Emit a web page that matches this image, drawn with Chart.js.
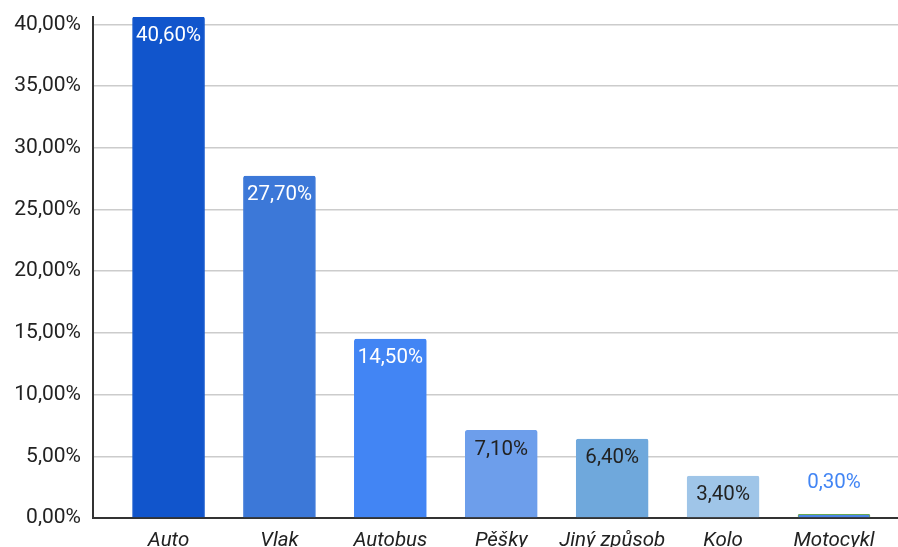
<!DOCTYPE html>
<html>
<head>
<meta charset="utf-8">
<script src="https://cdn.jsdelivr.net/npm/chart.js@4"></script>
<style>
html,body{margin:0;padding:0;background:#fff;}
#wrap{width:898px;height:547px;position:relative;}
</style>
</head>
<body>
<div id="wrap"><canvas id="c" width="898" height="547"></canvas></div>
<script>
const categories = ['Auto', 'Vlak', 'Autobus', 'Pěšky', 'Jiný způsob', 'Kolo', 'Motocykl'];
const values = [40.6, 27.7, 14.5, 7.1, 6.4, 3.4, 0.3];
const yTicks = [0, 5, 10, 15, 20, 25, 30, 35, 40];

const barColors = ['#1155cc', '#3c78d8', '#4285f4', '#6d9eeb', '#6fa8dc', '#9fc5e8', '#4a86e8'];
const barBorders = ['#1155cc', '#3c78d8', '#4285f4', '#6d9eeb', '#6fa8dc', '#9fc5e8', '#6aa84f'];
const labelColors = ['#ffffff', '#ffffff', '#ffffff', '#222222', '#222222', '#222222', '#4285f4'];

const fmt = v => v.toFixed(2).replace('.', ',') + '%';

const valueLabels = {
  id: 'valueLabels',
  afterDatasetsDraw(chart) {
    const ctx = chart.ctx;
    const meta = chart.getDatasetMeta(0);
    ctx.save();
    ctx.font = '20.5px Roboto';
    ctx.textAlign = 'center';
    ctx.textBaseline = 'middle';
    meta.data.forEach((bar, i) => {
      const h = bar.base - bar.y;
      const y = h > 30 ? bar.y + 19 : bar.y - 31;
      ctx.fillStyle = labelColors[i];
      ctx.fillText(fmt(values[i]), bar.x, y);
    });
    ctx.restore();
  }
};

new Chart(document.getElementById('c'), {
  type: 'bar',
  data: {
    datasets: [{
      data: values.map((v, i) => ({x: i, y: v})),
      backgroundColor: barColors,
      borderColor: barBorders,
      borderWidth: {top: 1, left: 1, right: 1, bottom: 0},
      borderRadius: {topLeft: 2, topRight: 2},
      borderSkipped: 'bottom',
      barThickness: 72
    }]
  },
  options: {
    responsive: false,
    animation: false,
    layout: {padding: {top: 17, right: 0, left: 0, bottom: 0}},
    plugins: {legend: {display: false}, tooltip: {enabled: false}},
    scales: {
      x: {
        type: 'linear',
        offset: false,
        min: -0.681,
        max: 6.577,
        afterBuildTicks: axis => { axis.ticks = categories.map((c, i) => ({value: i})); },
        afterFit: axis => { axis.height = 29; axis.paddingLeft = 0; axis.paddingRight = 0; },
        grid: {display: false, drawTicks: false, offset: false},
        border: {display: true, color: '#333333', width: 2},
        ticks: {
          autoSkip: false,
          maxRotation: 0,
          padding: 11,
          color: '#222222',
          font: {family: 'Roboto', size: 20.5, style: 'italic'},
          callback: v => categories[v]
        }
      },
      y: {
        min: 0,
        max: 40.6,
        afterBuildTicks: axis => { axis.ticks = yTicks.map(v => ({value: v})); },
        afterFit: axis => { axis.width = 93; axis.paddingTop = 0; axis.paddingBottom = 0; },
        grid: {color: '#cccccc', lineWidth: 1.5, drawTicks: false},
        border: {display: true, color: '#333333', width: 2},
        ticks: {
          padding: 12,
          color: '#222222',
          font: {family: 'Roboto', size: 21},
          callback: v => fmt(v)
        }
      }
    }
  },
  plugins: [valueLabels]
});
</script>
</body>
</html>
